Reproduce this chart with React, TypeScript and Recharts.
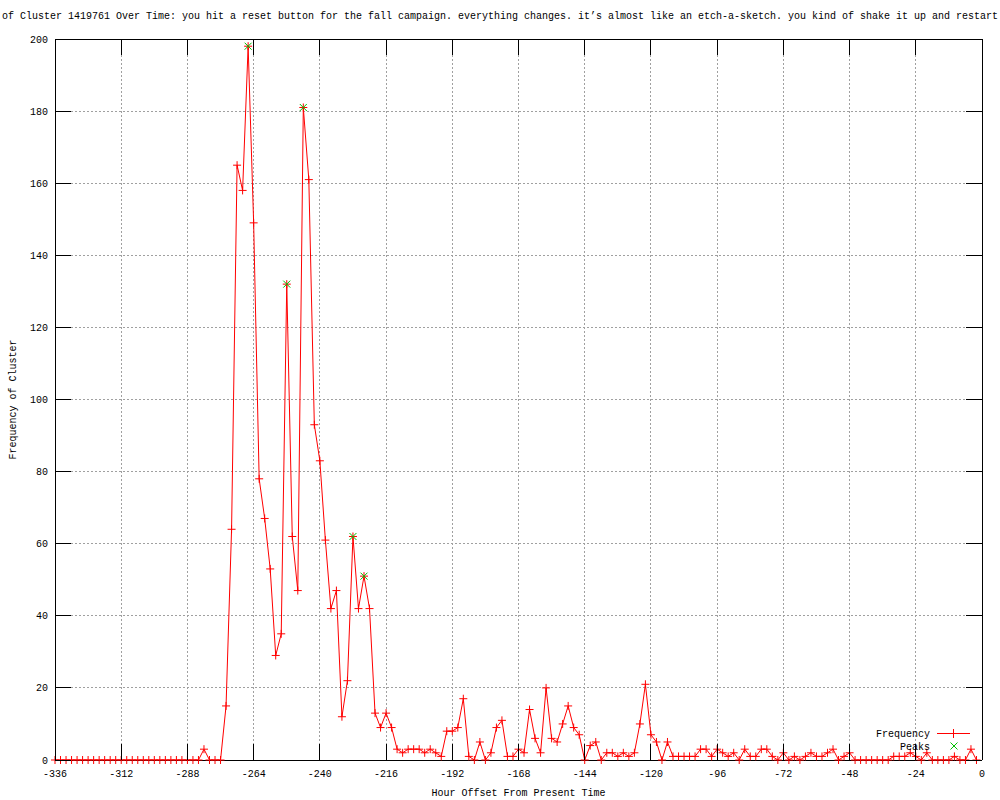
import React from 'react';
import { ComposedChart, Line, XAxis, YAxis, CartesianGrid, Legend } from 'recharts';

const hours = [
  -336, -334, -332, -330, -328, -326, -324, -322, -320, -318, -316, -314, -312, -310, -308, -306,
  -304, -302, -300, -298, -296, -294, -292, -290, -288, -286, -284, -282, -280, -278, -276, -274,
  -272, -270, -268, -266, -264, -262, -260, -258, -256, -254, -252, -250, -248, -246, -244, -242,
  -240, -238, -236, -234, -232, -230, -228, -226, -224, -222, -220, -218, -216, -214, -212, -210,
  -208, -206, -204, -202, -200, -198, -196, -194, -192, -190, -188, -186, -184, -182, -180, -178,
  -176, -174, -172, -170, -168, -166, -164, -162, -160, -158, -156, -154, -152, -150, -148, -146,
  -144, -142, -140, -138, -136, -134, -132, -130, -128, -126, -124, -122, -120, -118, -116, -114,
  -112, -110, -108, -106, -104, -102, -100, -98, -96, -94, -92, -90, -88, -86, -84, -82,
  -80, -78, -76, -74, -72, -70, -68, -66, -64, -62, -60, -58, -56, -54, -52, -50,
  -48, -46, -44, -42, -40, -38, -36, -34, -32, -30, -28, -26, -24, -22, -20, -18,
  -16, -14, -12, -10, -8, -6, -4, -2,
];

const frequency = [
  0, 0, 0, 0, 0, 0, 0, 0, 0, 0, 0, 0, 0, 0, 0, 0,
  0, 0, 0, 0, 0, 0, 0, 0, 0, 0, 0, 3, 0, 0, 0, 15,
  64, 165, 158, 198, 149, 78, 67, 53, 29, 35, 132, 62, 47, 181, 161, 93,
  83, 61, 42, 47, 12, 22, 62, 42, 51, 42, 13, 9, 13, 9, 3, 2,
  3, 3, 3, 2, 3, 2, 1, 8, 8, 9, 17, 1, 0, 5, 0, 2,
  9, 11, 1, 1, 3, 2, 14, 6, 2, 20, 6, 5, 10, 15, 9, 7,
  0, 4, 5, 0, 2, 2, 1, 2, 1, 2, 10, 21, 7, 5, 0, 5,
  1, 1, 1, 1, 1, 3, 3, 1, 3, 2, 1, 2, 0, 3, 1, 1,
  3, 3, 1, 0, 2, 0, 1, 0, 1, 2, 1, 1, 2, 3, 0, 1,
  2, 0, 0, 0, 0, 0, 0, 0, 1, 1, 1, 2, 1, 0, 2, 0,
  0, 0, 0, 1, 0, 0, 3, 0,
];

const peakHours = [-266, -252, -246, -228, -224];
const peakValues = [198, 132, 181, 62, 51];

const xTicks = [-336, -312, -288, -264, -240, -216, -192, -168, -144, -120, -96, -72, -48, -24, 0];
const yTicks = [0, 20, 40, 60, 80, 100, 120, 140, 160, 180, 200];

const TITLE =
  'of Cluster 1419761 Over Time: you hit a reset button for the fall campaign. everything changes. it\u2019s almost like an etch-a-sketch. you kind of shake it up and restart';

const FONT = '"Liberation Mono", "DejaVu Sans Mono", monospace';
const TICK_LEN = 16;

const data = hours.map((h, i) => {
  const pi = peakHours.indexOf(h);
  return { h, freq: frequency[i], peak: pi >= 0 ? peakValues[pi] : null };
});

const PlusDot = (props: any) => {
  const { cx, cy, index } = props;
  if (cx == null || cy == null) return <g key={`p${index}`} />;
  return (
    <g key={`p${index}`}>
      <line x1={cx - 4} x2={cx + 4} y1={cy} y2={cy} stroke="#ff0000" strokeWidth={1} />
      <line x1={cx} x2={cx} y1={cy - 4} y2={cy + 4} stroke="#ff0000" strokeWidth={1} />
    </g>
  );
};

const CrossDot = (props: any) => {
  const { cx, cy, index, value } = props;
  if (cx == null || cy == null || value == null) return <g key={`c${index}`} />;
  return (
    <g key={`c${index}`}>
      <line x1={cx - 3.5} x2={cx + 3.5} y1={cy - 3.5} y2={cy + 3.5} stroke="#00c000" strokeWidth={1} />
      <line x1={cx - 3.5} x2={cx + 3.5} y1={cy + 3.5} y2={cy - 3.5} stroke="#00c000" strokeWidth={1} />
    </g>
  );
};

// bottom axis: tickSize 0, tickMargin 17 -> label baseline is 17px below the axis line
const XTick = (props: any) => {
  const { x, y, payload } = props;
  const axisY = y - 17;
  return (
    <g>
      <line x1={x} x2={x} y1={axisY} y2={axisY - TICK_LEN} stroke="#000" strokeWidth={1} shapeRendering="crispEdges" />
      <text x={x} y={y} textAnchor="middle" fontFamily={FONT} fontSize={10} fill="#000">
        {payload.value}
      </text>
    </g>
  );
};

// left axis: tickSize 0, tickMargin 7 -> label right edge 7px left of axis line
const YTick = (props: any) => {
  const { x, y, payload } = props;
  const axisX = x + 7;
  return (
    <g>
      <line x1={axisX} x2={axisX + TICK_LEN} y1={y} y2={y} stroke="#000" strokeWidth={1} shapeRendering="crispEdges" />
      <text x={x} y={y} dy="0.35em" textAnchor="end" fontFamily={FONT} fontSize={10} fill="#000">
        {payload.value}
      </text>
    </g>
  );
};

// top axis: tickSize 0, tickMargin 0 -> y is the axis line
const TopTick = (props: any) => {
  const { x, y } = props;
  return <line x1={x} x2={x} y1={y} y2={y + TICK_LEN} stroke="#000" strokeWidth={1} shapeRendering="crispEdges" />;
};

// right axis: tickSize 0, tickMargin 0 -> x is the axis line
const RightTick = (props: any) => {
  const { x, y } = props;
  return <line x1={x} x2={x - TICK_LEN} y1={y} y2={y} stroke="#000" strokeWidth={1} shapeRendering="crispEdges" />;
};

const LegendContent = () => (
  <svg width={140} height={32} style={{ display: 'block' }}>
    <text x={80} y={8} dy="0.35em" textAnchor="end" fontFamily={FONT} fontSize={10} fill="#000">
      Frequency
    </text>
    <line x1={87} x2={120} y1={8.5} y2={8.5} stroke="#ff0000" strokeWidth={1} />
    <line x1={99} x2={107} y1={8.5} y2={8.5} stroke="#ff0000" strokeWidth={1} />
    <line x1={103.5} x2={103.5} y1={4} y2={13} stroke="#ff0000" strokeWidth={1} />
    <text x={80} y={21} dy="0.35em" textAnchor="end" fontFamily={FONT} fontSize={10} fill="#000">
      Peaks
    </text>
    <line x1={100.5} x2={107.5} y1={17.5} y2={24.5} stroke="#00c000" strokeWidth={1} />
    <line x1={100.5} x2={107.5} y1={24.5} y2={17.5} stroke="#00c000" strokeWidth={1} />
  </svg>
);

export default function App() {
  return (
    <div style={{ position: 'absolute', left: 0, top: 0, width: 1000, height: 800, background: '#fff' }}>
      <ComposedChart
        width={1000}
        height={800}
        data={data}
        margin={{ top: 38, right: 17, bottom: 0, left: 0 }}
      >
        <CartesianGrid
          stroke="#a0a0a0"
          strokeDasharray="2 2"
          shapeRendering="crispEdges"
          verticalValues={xTicks}
          horizontalValues={yTicks}
        />
        <XAxis
          dataKey="h"
          type="number"
          domain={[-336, 0]}
          ticks={xTicks}
          interval={0}
          height={40}
          tickSize={0}
          tickMargin={17}
          tick={<XTick />}
          axisLine={{ stroke: '#000', shapeRendering: 'crispEdges' }}
          tickLine={false}
          label={{
            content: (p: any) => {
              const vb = p.viewBox || { x: 55, y: 760, width: 927, height: 40 };
              return (
                <text
                  x={vb.x + vb.width / 2}
                  y={vb.y + vb.height - 4}
                  textAnchor="middle"
                  fontFamily={FONT}
                  fontSize={10}
                  fill="#000"
                >
                  Hour Offset From Present Time
                </text>
              );
            },
          }}
        />
        <XAxis
          xAxisId="top"
          dataKey="h"
          orientation="top"
          type="number"
          domain={[-336, 0]}
          ticks={xTicks}
          interval={0}
          height={1}
          tickSize={0}
          tickMargin={0}
          tick={<TopTick />}
          axisLine={{ stroke: '#000', shapeRendering: 'crispEdges' }}
          tickLine={false}
        />
        <YAxis
          type="number"
          domain={[0, 200]}
          ticks={yTicks}
          interval={0}
          width={55}
          tickSize={0}
          tickMargin={7}
          tick={<YTick />}
          axisLine={{ stroke: '#000', shapeRendering: 'crispEdges' }}
          tickLine={false}
          label={{
            content: (p: any) => {
              const vb = p.viewBox || { x: 0, y: 39, width: 55, height: 721 };
              const cy = vb.y + vb.height / 2;
              return (
                <text
                  x={13}
                  y={cy}
                  transform={`rotate(-90 13 ${cy})`}
                  textAnchor="middle"
                  dominantBaseline="central"
                  fontFamily={FONT}
                  fontSize={10}
                  fill="#000"
                >
                  Frequency of Cluster
                </text>
              );
            },
          }}
        />
        <YAxis
          yAxisId="right"
          orientation="right"
          type="number"
          domain={[0, 200]}
          ticks={yTicks}
          interval={0}
          width={1}
          tickSize={0}
          tickMargin={0}
          tick={<RightTick />}
          axisLine={{ stroke: '#000', shapeRendering: 'crispEdges' }}
          tickLine={false}
        />
        <Line
          type="linear"
          dataKey="freq"
          stroke="#ff0000"
          strokeWidth={1}
          dot={PlusDot}
          activeDot={false}
          isAnimationActive={false}
        />
        <Line
          type="linear"
          dataKey="peak"
          xAxisId="top"
          yAxisId="right"
          stroke="none"
          dot={CrossDot}
          activeDot={false}
          connectNulls={false}
          isAnimationActive={false}
        />
        <Legend
          layout="horizontal"
          verticalAlign="middle"
          align="center"
          content={<LegendContent />}
          wrapperStyle={{ left: 850, top: 725, width: 140, height: 32 }}
        />
      </ComposedChart>
      <div
        style={{
          position: 'absolute',
          left: 0,
          top: 11,
          width: 1000,
          textAlign: 'center',
          fontFamily: FONT,
          fontSize: 10,
          whiteSpace: 'nowrap',
          lineHeight: '12px',
          color: '#000',
        }}
      >
        {TITLE}
      </div>
    </div>
  );
}
